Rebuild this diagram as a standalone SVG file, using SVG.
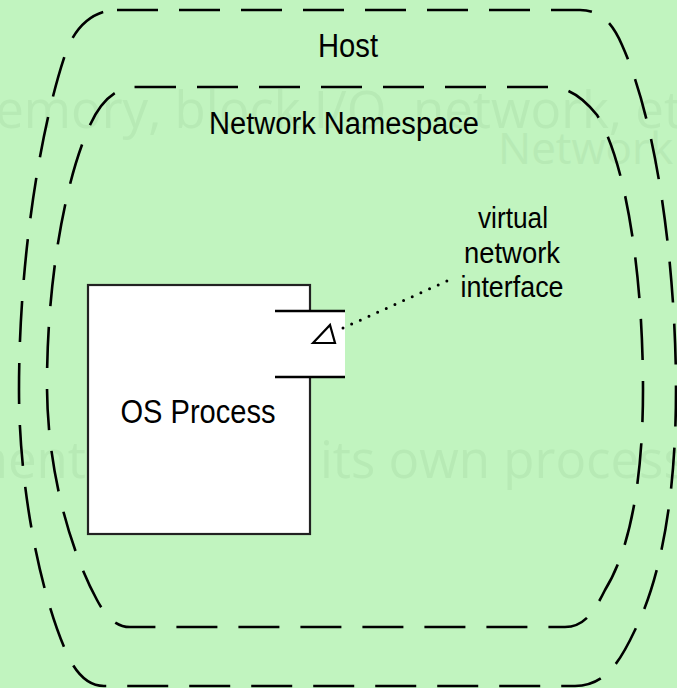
<svg xmlns="http://www.w3.org/2000/svg" width="677" height="688" viewBox="0 0 677 688">
<style>
.boundary{fill:none;stroke:#000;stroke-width:2.6;stroke-dasharray:41 21}
.lbl{font-family:"Liberation Sans",Arial,sans-serif;fill:#000;text-anchor:middle}
.ghost{font-family:"Open Sans","Liberation Sans",sans-serif;fill:#b7eab5}
.dots{fill:none;stroke:#000;stroke-width:3;stroke-linecap:round;stroke-dasharray:0 9.5}
</style>
<rect x="0" y="0" width="677" height="688" fill="#c1f4bf"/>
<g id="background-ghost-text">
<text class="ghost" x="-52" y="128" font-size="51">memory, block I/O, network, etc.</text>
<text class="ghost" x="498" y="164" font-size="44">Network</text>
<text class="ghost" x="86" y="478" font-size="51" text-anchor="end">ment</text>
<text class="ghost" x="320" y="478" font-size="51">its own process</text>
</g>
<g id="host">
<path class="boundary" d="M 117,10 H 580 C 600,10 612,22 622,45 C 660,130 676,280 676,390 C 676,500 660,580 635,630 C 620,662 605,686 575,686 H 104 C 90,686 80,678 70,660 C 45,610 19,500 19,390 C 19,260 40,130 65,55 C 75,25 95,10 117,10 Z"/>
<text class="lbl" x="348" y="57" font-size="33" textLength="60" lengthAdjust="spacingAndGlyphs">Host</text>
</g>
<g id="network-namespace">
<path class="boundary" d="M 135,87 H 550 C 570,87 585,100 597,115 C 625,160 643,270 643,390 C 643,480 630,550 605,590 C 595,610 585,627 565,627 H 130 C 115,627 105,615 97,600 C 70,550 47,470 47,385 C 47,280 65,180 90,125 C 100,103 115,87 135,87 Z"/>
<text class="lbl" x="344" y="134" font-size="31" textLength="270" lengthAdjust="spacingAndGlyphs">Network Namespace</text>
</g>
<g id="os-process">
<rect x="88" y="285" width="222" height="249" fill="#fff" stroke="#222" stroke-width="2.2"/>
<text class="lbl" x="198" y="423" font-size="34" textLength="155" lengthAdjust="spacingAndGlyphs">OS Process</text>
</g>
<g id="virtual-network-interface">
<rect x="275" y="311" width="70" height="66" fill="#fff"/>
<line x1="275" y1="311" x2="345" y2="311" stroke="#000" stroke-width="2.4"/>
<line x1="275" y1="377" x2="345" y2="377" stroke="#000" stroke-width="2.4"/>
<polygon points="313,343 330,325 335,343" fill="none" stroke="#000" stroke-width="2.2"/>
</g>
<g id="connectors">
<line class="dots" x1="343" y1="328" x2="449" y2="280"/>
</g>
<g id="vni-label">
<text class="lbl" x="513" y="228" font-size="29" textLength="70" lengthAdjust="spacingAndGlyphs">virtual</text>
<text class="lbl" x="512" y="263" font-size="29" textLength="96" lengthAdjust="spacingAndGlyphs">network</text>
<text class="lbl" x="512" y="297" font-size="29" textLength="103" lengthAdjust="spacingAndGlyphs">interface</text>
</g>
</svg>
